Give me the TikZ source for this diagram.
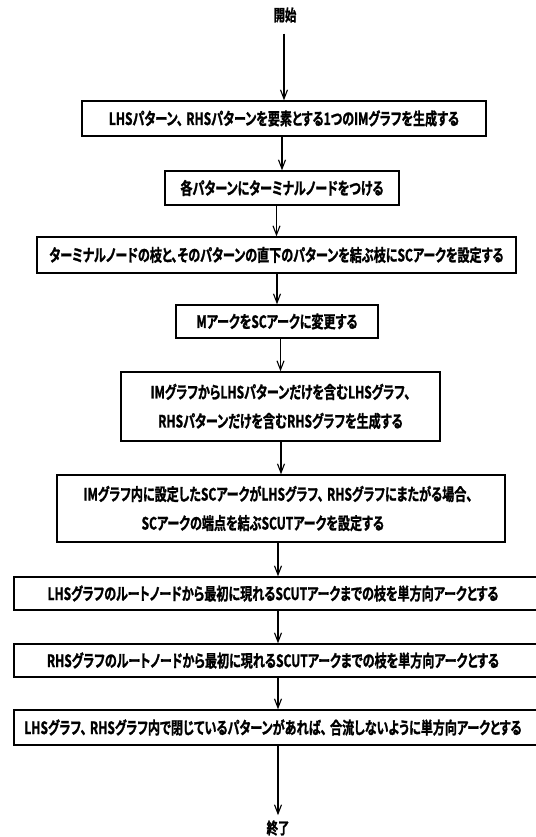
\documentclass[tikz,border=0pt]{standalone}
\usepackage{fontspec}
\usetikzlibrary{arrows.meta}
\newfontfamily\jp{Noto Sans CJK JP}[UprightFont=* Bold, FakeStretch=0.71, FakeBold=1.2, RawFeature=+palt]
\begin{document}
\begin{tikzpicture}[x=1pt, y=-1pt,
  stepbox/.style={draw, line width=1.4pt, inner sep=0pt, align=center,
    font=\jp\fontsize{17}{29}\selectfont},
  term/.style={inner sep=1pt, font=\jp\fontsize{16}{18}\selectfont},
  arr/.style={-{Straight Barb[length=9pt,width=7pt]}, line width=1.1pt}]
\useasboundingbox (0,0) rectangle (535,837);

% start and end labels
\node[term] (start) at (285,15) {開始};
\node[term] (fin) at (278,828) {終了};

% process steps
\node[stepbox, minimum width=404pt, minimum height=35pt] (b1) at (284,118.5)
  {LHSパターン、\hspace{0.2em}RHSパターンを要素とする1つのIMグラフを生成する};
\node[stepbox, minimum width=234pt, minimum height=34pt] (b2) at (282,188)
  {各パターンにターミナルノードをつける};
\node[stepbox, minimum width=479pt, minimum height=36pt] (b3) at (276.5,255)
  {ターミナルノードの枝と、そのパターンの直下のパターンを結ぶ枝にSCアークを設定する};
\node[stepbox, minimum width=202pt, minimum height=33pt] (b4) at (277,321.5)
  {MアークをSCアークに変更する};
\node[stepbox, minimum width=319pt, minimum height=69pt] (b5) at (280.5,406.5)
  {IMグラフからLHSパターンだけを含むLHSグラフ、\\RHSパターンだけを含むRHSグラフを生成する};
\node[stepbox, minimum width=448pt, minimum height=67pt, align=left] (b6) at (281,508.5)
  {\hspace*{-6pt}IMグラフ内に設定したSCアークがLHSグラフ、\hspace{0.2em}RHSグラフにまたがる場合、\\\hspace*{52pt}SCアークの端点を結ぶSCUTアークを設定する};
\node[stepbox, minimum width=528pt, minimum height=33pt] (b7) at (278,593.5)
  {\hspace*{-10pt}LHSグラフのルートノードから最初に現れるSCUTアークまでの枝を単方向アークとする};
\node[stepbox, minimum width=528pt, minimum height=33pt] (b8) at (278,660.5)
  {\hspace*{-10pt}RHSグラフのルートノードから最初に現れるSCUTアークまでの枝を単方向アークとする};
\node[stepbox, minimum width=528pt, minimum height=35pt] (b9) at (278,727.5)
  {\hspace*{-10pt}LHSグラフ、\hspace{0.2em}RHSグラフ内で閉じているパターンがあれば、\hspace{0.2em}合流しないように単方向アークとする};

% connectors
\draw[arr] ([yshift=-10pt]start.south -| b1.north) -- (b1.north);
\draw[arr] (b1.south -| b2.north) -- (b2.north);
\draw[arr] (b2.south -| b3.north) -- (b3.north);
\draw[arr] (b3.south -| b4.north) -- (b4.north);
\draw[arr] (b4.south -| b5.north) -- (b5.north);
\draw[arr] (b5.south -| b6.north) -- (b6.north);
\draw[arr] (b6.south -| b7.north) -- (b7.north);
\draw[arr] (b7.south -| b8.north) -- (b8.north);
\draw[arr] (b8.south -| b9.north) -- (b9.north);
\draw[arr] (b9.south -| fin.north) -- ([yshift=4pt]fin.north);
\end{tikzpicture}
\end{document}
